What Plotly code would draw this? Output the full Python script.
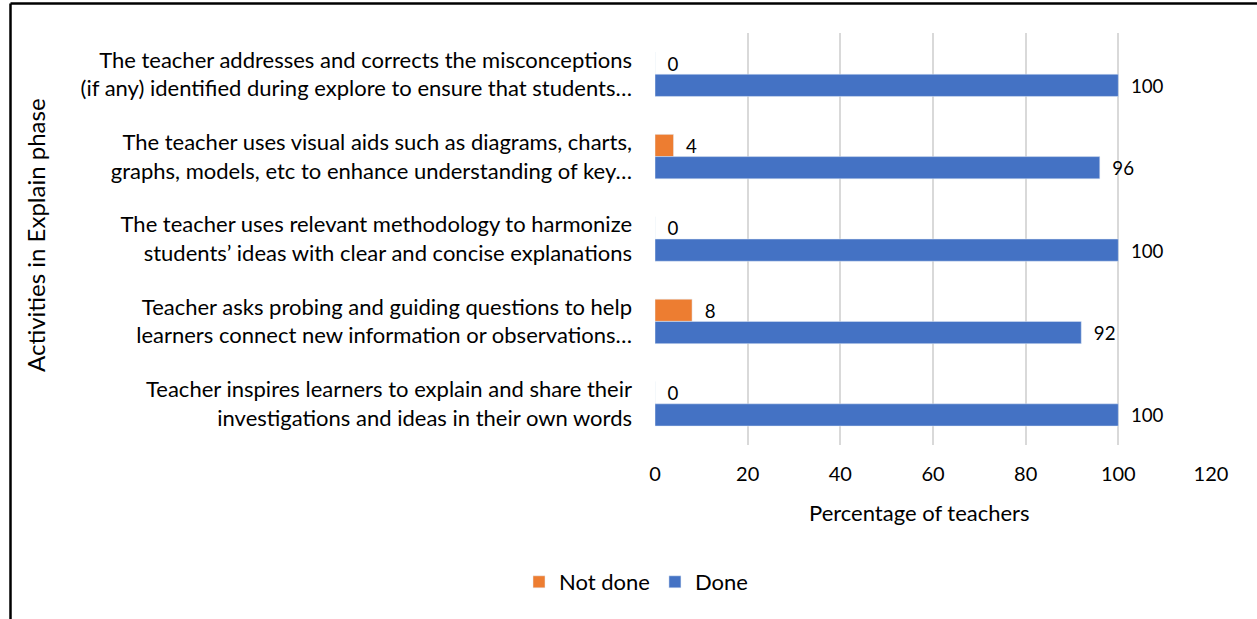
import plotly.graph_objects as go

categories = [
    "The teacher addresses and corrects the misconceptions<br>(if any) identified during explore to ensure that students…",
    "The teacher uses visual aids such as diagrams, charts,<br>graphs, models, etc to enhance understanding of key…",
    "The teacher uses relevant methodology to harmonize<br>students’ ideas with clear and concise explanations",
    "Teacher asks probing and guiding questions to help<br>learners connect new information or observations…",
    "Teacher inspires learners to explain and share their<br>investigations and ideas in their own words",
]
not_done = [0, 4, 0, 8, 0]
done = [100, 96, 100, 92, 100]
x_ticks = [0, 20, 40, 60, 80, 100, 120]

FONT = "Lato"

fig = go.Figure()
fig.add_trace(go.Bar(
    y=categories, x=not_done, orientation="h", name="Not done",
    marker=dict(color="#ED7D31"),
    text=[f"  {v}" for v in not_done], textposition="outside",
    textfont=dict(size=21, color="#000000", family=FONT), cliponaxis=False,
))
fig.add_trace(go.Bar(
    y=categories, x=done, orientation="h", name="Done",
    marker=dict(color="#4472C4"),
    text=[f"  {v}" for v in done], textposition="outside",
    textfont=dict(size=21, color="#000000", family=FONT), cliponaxis=False,
))

L, T, W, H = 655, 33, 556, 412
FW, FH = 1257, 619

def px_x(p):
    return (p - L) / W

def px_y(p):
    return (T + H - p) / H

fig.update_layout(
    width=FW, height=FH,
    margin=dict(l=L, r=FW - L - W, t=T, b=FH - T - H),
    paper_bgcolor="white", plot_bgcolor="white",
    barmode="group", bargap=0.46, bargroupgap=0,
    font=dict(family=FONT, size=20, color="#000000"),
    showlegend=True,
    legend=dict(orientation="h", x=636 / FW, xref="container", xanchor="center",
                y=(FH - 582) / FH, yref="container", yanchor="middle",
                font=dict(size=22, family=FONT), traceorder="normal",
                itemwidth=30),
    xaxis=dict(range=[0, 120], tickvals=x_ticks, showgrid=True,
               gridcolor="#D9D9D9", gridwidth=1.5, zeroline=False,
               showline=False, ticks="", tickfont=dict(size=20),
               ticklabelstandoff=15),
    yaxis=dict(autorange="reversed", showgrid=False, showline=False, ticks="",
               tickfont=dict(size=22), ticklabelstandoff=22),
    annotations=[
        dict(text="Activities in Explain phase", textangle=-90, showarrow=False,
             xref="paper", yref="paper", x=px_x(35), y=px_y(235),
             xanchor="center", yanchor="middle", font=dict(size=24, family=FONT)),
        dict(text="Percentage of teachers", showarrow=False,
             xref="paper", yref="paper", x=px_x(919), y=px_y(512),
             xanchor="center", yanchor="middle", font=dict(size=22, family=FONT)),
    ],
    shapes=[
        dict(type="line", xref="paper", yref="paper",
             x0=px_x(10.5), x1=px_x(1260), y0=px_y(3.5), y1=px_y(3.5),
             line=dict(color="black", width=2.5)),
        dict(type="line", xref="paper", yref="paper",
             x0=px_x(10.5), x1=px_x(10.5), y0=px_y(3.5), y1=px_y(625),
             line=dict(color="black", width=2.5)),
    ],
)

fig.write_html("out.html", config={"displayModeBar": False},
               post_script="document.body.style.margin='0px';")
